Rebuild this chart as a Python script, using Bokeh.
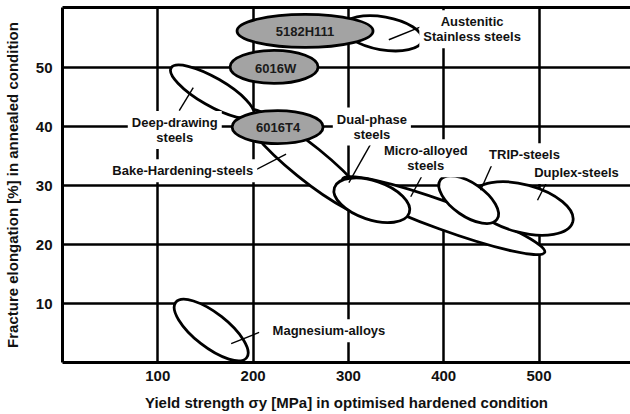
from bokeh.plotting import figure
from bokeh.models import Range1d, FixedTicker, LinearAxis, ColumnDataSource
from bokeh.core.properties import value
from bokeh.embed import file_html
from bokeh.resources import INLINE

# ---------------- data ----------------
x_ticks = [100, 200, 300, 400, 500]
y_ticks = [10, 20, 30, 40, 50]

# material regions: centre yield strength (MPa) and centre fracture elongation (%)
region_names = ["Bake-Hardening", "Deep-drawing", "Austenitic", "5182H111", "6016W", "6016T4",
                "Micro-alloyed", "Dual-phase", "Duplex", "TRIP", "Magnesium"]
region_strength = [257.6, 157.1, 336.1, 254.5, 222.0, 225.7, 400.0, 324.6, 482.7, 426.2, 156.0]
region_elong = [33.9, 45.9, 55.8, 56.2, 50.1, 39.9, 24.9, 27.5, 26.1, 27.6, 5.5]
region_is_aluminium = [False, False, False, True, True, True, False, False, False, False, False]

# gray aluminium labels (inside ellipses)
al_labels = ["5182H111", "6016W", "6016T4"]
al_strength = [254.5, 223.6, 226.2]
al_elong = [56.1, 49.9, 39.9]

# steel / magnesium labels
lab_text = ["Deep-drawing\nsteels", "Bake-Hardening-steels", "Austenitic\nStainless steels",
            "Dual-phase\nsteels", "Micro-alloyed\nsteels", "TRIP-steels", "Duplex-steels",
            "Magnesium-alloys"]
lab_strength = [117.8, 126.2, 429.8, 324.6, 381.2, 484.8, 539.3, 279.6]
lab_elong = [39.4, 32.5, 56.5, 40.0, 34.6, 35.2, 32.2, 5.4]

# leader lines (label -> region)
lead_x0 = [122.5, 201.0, 342.4, 323.6, 379.1, 452.4, 508.9, 206.3]
lead_y0 = [42.7, 32.5, 54.7, 37.1, 32.2, 34.2, 30.8, 5.1]
lead_x1 = [137.2, 234.6, 375.9, 300.5, 365.4, 438.7, 498.4, 177.0]
lead_y1 = [46.6, 35.3, 56.9, 30.5, 28.1, 29.2, 27.5, 3.2]

x_title = "Yield strength σy [MPa] in optimised hardened condition"
y_title = "Fracture elongation [%] in annealed condition"

# ---------------- styles ----------------
ell_major_px = [166, 95, 80, 136, 88, 91, 215, 79, 104, 69, 90]
ell_minor_px = [34, 28, 33, 33, 33, 33, 28, 39, 48, 33, 34]
ell_angle_deg = [-39, -30, -10, 0, 0, 0, -20, -18.7, -15, -34.7, -38]
GRAY = "#a3a3a3"
FONT = "Liberation Sans"
INK = "#111111"

p = figure(width=630, height=414, x_range=Range1d(0, 596), y_range=Range1d(0, 60.17),
           output_backend="svg", toolbar_location=None,
           min_border_left=61, min_border_right=0, min_border_top=7, min_border_bottom=52)
p.outline_line_color = None
p.background_fill_color = "white"
p.border_fill_color = "white"

for ax in (p.xaxis[0], p.yaxis[0]):
    ax.axis_line_width = 3
    ax.axis_line_color = "black"
    ax.major_tick_out = 0
    ax.major_tick_in = 0
    ax.minor_tick_out = 0
    ax.minor_tick_in = 0
    ax.major_label_text_font = FONT
    ax.major_label_text_font_size = "15px"
    ax.major_label_text_font_style = "bold"
    ax.major_label_text_color = INK
    ax.axis_label_text_font = FONT
    ax.axis_label_text_font_size = "15px"
    ax.axis_label_text_font_style = "bold"
    ax.axis_label_text_color = INK

p.xaxis[0].ticker = FixedTicker(ticks=x_ticks)
p.yaxis[0].ticker = FixedTicker(ticks=y_ticks)
p.xaxis[0].major_label_standoff = 8
p.yaxis[0].major_label_standoff = 10
p.xaxis[0].axis_label = x_title
p.xaxis[0].axis_label_standoff = 10
p.yaxis[0].axis_label = y_title
p.yaxis[0].axis_label_standoff = 12

top_axis = LinearAxis(ticker=FixedTicker(ticks=[]), axis_line_width=3, major_tick_out=0,
                      major_tick_in=0, minor_tick_out=0, minor_tick_in=0,
                      major_label_text_font_size="0px")
p.add_layout(top_axis, "above")

p.xgrid.ticker = FixedTicker(ticks=x_ticks)
p.ygrid.ticker = FixedTicker(ticks=y_ticks)
for g in (p.xgrid[0], p.ygrid[0]):
    g.grid_line_color = "black"
    g.grid_line_width = 2.5

src = ColumnDataSource(dict(
    x=region_strength, y=region_elong, w=ell_major_px, h=ell_minor_px, a=ell_angle_deg,
    fill=[GRAY if al else "white" for al in region_is_aluminium]))
p.ellipse(x="x", y="y", width="w", height="h", angle="a", source=src,
          width_units="screen", height_units="screen", angle_units="deg",
          fill_color="fill", line_color="black", line_width=2.8)

p.segment(x0=lead_x0, y0=lead_y0, x1=lead_x1, y1=lead_y1, line_color="black", line_width=1.4)

p.text(x=al_strength, y=al_elong, text=al_labels, text_align="center", text_baseline="middle",
       text_font=value(FONT), text_font_style="bold", text_font_size="13px", text_color="#1a1a1a")

p.text(x=lab_strength, y=lab_elong, text=lab_text, text_align="center", text_baseline="middle",
       text_font=value(FONT), text_font_style="bold", text_font_size="13px", text_color=INK,
       text_line_height=1.0, background_fill_color="white", padding=4)

open("out.html", "w").write(file_html(p, INLINE))
